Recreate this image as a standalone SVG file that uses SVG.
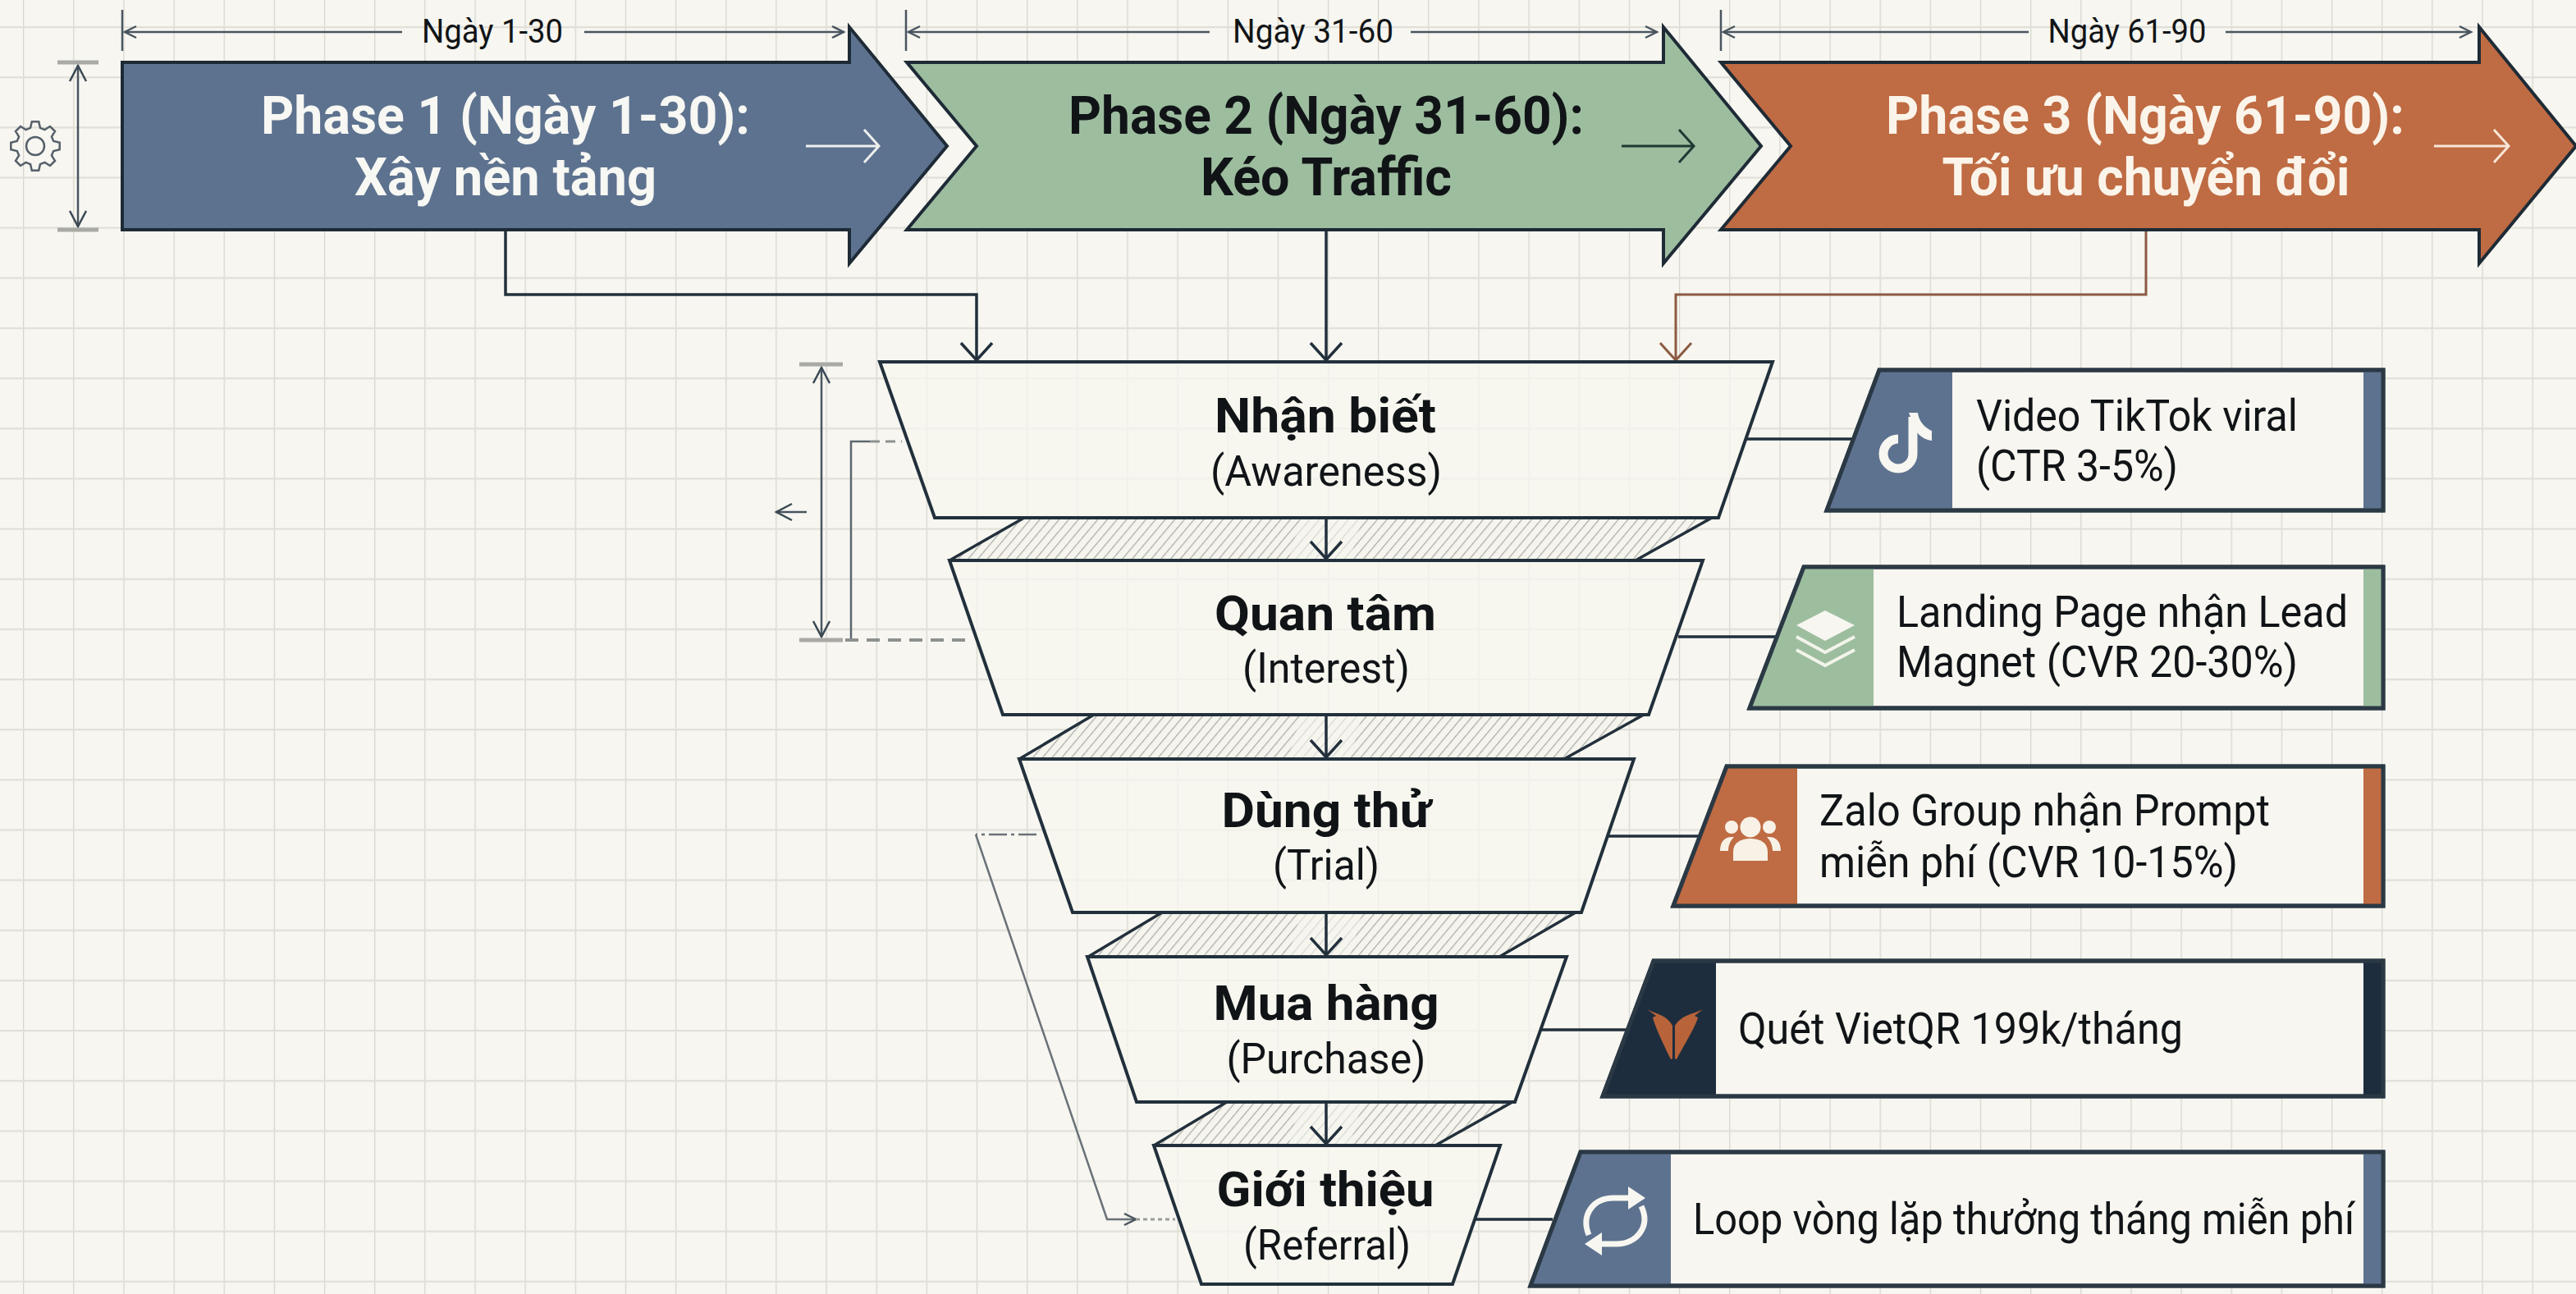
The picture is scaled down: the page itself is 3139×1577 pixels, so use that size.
<svg xmlns="http://www.w3.org/2000/svg" width="3139" height="1577" viewBox="0 0 3139 1577">
<style>
text{font-family:Roboto,"Noto Sans","Liberation Sans",sans-serif;fill:#111417}
.c{text-anchor:middle}
.ph{font-size:65px;font-weight:700}
.hd{font-size:60px;font-weight:700}
.sb{font-size:52px;font-weight:400}
.cd{font-size:54px;font-weight:400}
.dm{font-size:40px}
.ln{fill:none;stroke:#22303c;stroke-width:3.5}
.tr{fill:#f7f6f0;fill-opacity:.72;stroke:#22303c;stroke-width:4;stroke-linejoin:miter}
.hb{fill:url(#hatch);stroke:none}
.hs{fill:none;stroke:#22303c;stroke-width:3.5}
.cb{fill:#f7f6f0;stroke:#2b3945;stroke-width:5}
.ar{stroke:#1e2b36;stroke-width:4;stroke-linejoin:miter}
</style>
<defs>
<pattern id="grid" width="61.15" height="61.15" patternUnits="userSpaceOnUse" x="28" y="32">
<path d="M0,0V61.15" stroke="#d6d6cf" stroke-width="2.5" fill="none"/>
<path d="M0,0H61.15" stroke="#e0dfd8" stroke-width="4.5" fill="none"/>
</pattern>
<pattern id="hatch" width="9" height="9" patternUnits="userSpaceOnUse" patternTransform="rotate(40)">
<rect width="9" height="9" fill="#f5f4ed"/>
<path d="M0,0V9" stroke="#a9aba7" stroke-width="2.4"/>
</pattern>
<marker id="mD" markerUnits="userSpaceOnUse" markerWidth="60" markerHeight="60" refX="30" refY="30" orient="auto" overflow="visible"><path d="M9,11L30,30L9,49" fill="none" stroke="#22303c" stroke-width="3.5"/></marker>
<marker id="mB" markerUnits="userSpaceOnUse" markerWidth="60" markerHeight="60" refX="30" refY="30" orient="auto" overflow="visible"><path d="M9,11L30,30L9,49" fill="none" stroke="#8b5a42" stroke-width="3"/></marker>
<marker id="mS" markerUnits="userSpaceOnUse" markerWidth="40" markerHeight="40" refX="20" refY="20" orient="auto" overflow="visible"><path d="M6,13L20,20L6,27" fill="none" stroke="#4a5560" stroke-width="2.5"/></marker>
<marker id="mV" markerUnits="userSpaceOnUse" markerWidth="40" markerHeight="40" refX="20" refY="20" orient="auto" overflow="visible"><path d="M1,10L20,20L1,30" fill="none" stroke="#3a4854" stroke-width="2.5"/></marker>
</defs>
<rect width="3139" height="1577" fill="#f7f6f0"/>
<rect width="3139" height="1577" fill="url(#grid)"/>

<g id="dimensions">
<g fill="none" stroke="#4a5560" stroke-width="2.5">
<path d="M149,12V62M1104,12V62M2097,12V62"/>
<path d="M490,39H152" marker-end="url(#mS)"/><path d="M712,39H1028" marker-end="url(#mS)"/>
<path d="M1474,39H1107" marker-end="url(#mS)"/><path d="M1719,39H2019" marker-end="url(#mS)"/>
<path d="M2472,39H2100" marker-end="url(#mS)"/><path d="M2712,39H3011" marker-end="url(#mS)"/>
<path d="M95,178V80" marker-end="url(#mV)"/><path d="M95,178V276" marker-end="url(#mV)"/>
<path d="M1001,610V448" marker-end="url(#mV)"/><path d="M1001,610V776" marker-end="url(#mV)"/>
</g>
<path d="M70,76H120M70,280H120M974,444H1027M974,780H1027" stroke="#a9aaa6" stroke-width="5" fill="none"/>
<path d="M1060,538H1037V780" fill="none" stroke="#5d6770" stroke-width="2.5"/>
<path d="M1060,538H1099" fill="none" stroke="#8d918f" stroke-width="3" stroke-dasharray="12 7"/>
<path d="M1030,780H1186" fill="none" stroke="#8d918f" stroke-width="4" stroke-dasharray="16 10"/>
<path d="M983,624H946" fill="none" stroke="#4a5560" stroke-width="2.5" marker-end="url(#mV)"/>
<text class="dm c" x="600" y="52" textLength="172" lengthAdjust="spacingAndGlyphs">Ngày 1-30</text>
<text class="dm c" x="1600" y="52" textLength="196" lengthAdjust="spacingAndGlyphs">Ngày 31-60</text>
<text class="dm c" x="2592" y="52" textLength="193" lengthAdjust="spacingAndGlyphs">Ngày 61-90</text>
</g>

<g id="gear" transform="translate(43,178)" fill="none" stroke="#56606a" stroke-width="2.5">
<path d="M-5.95,-22.2L-4.2,-29.7L4.2,-29.7L5.95,-22.2L11.5,-19.9L18,-24L24,-18L19.9,-11.5L22.2,-5.95L29.7,-4.2L29.7,4.2L22.2,5.95L19.9,11.5L24,18L18,24L11.5,19.9L5.95,22.2L4.2,29.7L-4.2,29.7L-5.95,22.2L-11.5,19.9L-18,24L-24,18L-19.9,11.5L-22.2,5.95L-29.7,4.2L-29.7,-4.2L-22.2,-5.95L-19.9,-11.5L-24,-18L-18,-24L-11.5,-19.9Z"/>
<circle r="11"/>
</g>

<g id="connectors">
<path class="ln" d="M616,280V359H1190V439" marker-end="url(#mD)"/>
<path class="ln" d="M1616,280V439" marker-end="url(#mD)"/>
<path d="M2615,280V359H2042V439" fill="none" stroke="#8b5a42" stroke-width="3" marker-end="url(#mB)"/>
<path class="ln" d="M2127,535H2258M2045,776H2163M1959,1019H2071M1878,1255H1982M1798,1486H1892"/>
</g>

<g id="hatches">
<path class="hb" d="M1248,631H2086L1993,683H1157Z"/>
<path class="hb" d="M1333,871H2003L1906,925H1242Z"/>
<path class="hb" d="M1416,1112H1920L1827,1166H1326Z"/>
<path class="hb" d="M1495,1343H1843L1749,1396H1406Z"/>
<path class="hs" d="M1248,631L1157,683M2086,631L1993,683M1333,871L1242,925M2003,871L1906,925M1416,1112L1326,1166M1920,1112L1827,1166M1495,1343L1406,1396M1843,1343L1749,1396"/>
<path d="M1585,631H1660L1645,683H1570ZM1585,871H1660L1645,925H1570ZM1585,1112H1660L1645,1166H1570ZM1585,1343H1660L1645,1396H1570Z" fill="#f7f6f0" fill-opacity=".6"/>
</g>

<g id="phase-1">
<path class="ar" d="M149,76H1035V33L1154,178L1035,321V280H149Z" fill="#5d728f"/>
<text class="ph c" x="616" y="163" textLength="596" lengthAdjust="spacingAndGlyphs" style="fill:#f7f7f3">Phase 1 (Ngày 1-30):</text>
<text class="ph c" x="616" y="238" textLength="368" lengthAdjust="spacingAndGlyphs" style="fill:#f7f7f3">Xây nền tảng</text>
<path d="M982,178H1070M1053,158L1071,178L1053,198" fill="none" stroke="#eef0ee" stroke-width="3"/>
</g>
<g id="phase-2">
<path class="ar" d="M1105,76H2027V33L2146,178L2027,321V280H1105L1190,178Z" fill="#9dbd9f"/>
<text class="ph c" x="1616" y="163" textLength="628" lengthAdjust="spacingAndGlyphs">Phase 2 (Ngày 31-60):</text>
<text class="ph c" x="1616" y="238" textLength="306" lengthAdjust="spacingAndGlyphs">Kéo Traffic</text>
<path d="M1976,178H2063M2046,158L2064,178L2046,198" fill="none" stroke="#1e3a33" stroke-width="3"/>
</g>
<g id="phase-3">
<path class="ar" d="M2097,76H3021V33L3139,178L3021,321V280H2097L2182,178Z" fill="#bf6b43"/>
<text class="ph c" x="2614" y="163" textLength="632" lengthAdjust="spacingAndGlyphs" style="fill:#fbf4ea">Phase 3 (Ngày 61-90):</text>
<text class="ph c" x="2615" y="238" textLength="497" lengthAdjust="spacingAndGlyphs" style="fill:#fbf4ea">Tối ưu chuyển đổi</text>
<path d="M2966,178H3056M3039,158L3057,178L3039,198" fill="none" stroke="#f8e6d8" stroke-width="3"/>
</g>

<g id="funnel-arrows">
<path class="ln" d="M1616,631V681" marker-end="url(#mD)"/>
<path class="ln" d="M1616,871V923" marker-end="url(#mD)"/>
<path class="ln" d="M1616,1112V1164" marker-end="url(#mD)"/>
<path class="ln" d="M1616,1343V1394" marker-end="url(#mD)"/>
</g>

<g id="feedback-loop" fill="none">
<path d="M1263,1017H1189" stroke="#6a7278" stroke-width="2.5" stroke-dasharray="22 5 4 5"/>
<path d="M1189,1017L1349,1486H1384" stroke="#6a7278" stroke-width="2.5" marker-end="url(#mS)"/>
<path d="M1384,1486H1432" stroke="#9a9d9a" stroke-width="3" stroke-dasharray="5 4"/>
</g>

<g id="stage-awareness">
<path class="tr" d="M1072,441H2160L2094,631H1139Z"/>
<text class="hd c" x="1615" y="527" textLength="270" lengthAdjust="spacingAndGlyphs">Nhận biết</text>
<text class="sb c" x="1616" y="592" textLength="282" lengthAdjust="spacingAndGlyphs">(Awareness)</text>
</g>
<g id="stage-interest">
<path class="tr" d="M1157,683H2075L2009,871H1222Z"/>
<text class="hd c" x="1615" y="768" textLength="270" lengthAdjust="spacingAndGlyphs">Quan tâm</text>
<text class="sb c" x="1616" y="832" textLength="204" lengthAdjust="spacingAndGlyphs">(Interest)</text>
</g>
<g id="stage-trial">
<path class="tr" d="M1242,925H1991L1927,1112H1307Z"/>
<text class="hd c" x="1616" y="1008" textLength="255" lengthAdjust="spacingAndGlyphs">Dùng thử</text>
<text class="sb c" x="1616" y="1072" textLength="130" lengthAdjust="spacingAndGlyphs">(Trial)</text>
</g>
<g id="stage-purchase">
<path class="tr" d="M1325,1166H1909L1846,1343H1385Z"/>
<text class="hd c" x="1616" y="1243" textLength="275" lengthAdjust="spacingAndGlyphs">Mua hàng</text>
<text class="sb c" x="1616" y="1308" textLength="243" lengthAdjust="spacingAndGlyphs">(Purchase)</text>
</g>
<g id="stage-referral">
<path class="tr" d="M1406,1396H1828L1770,1565H1464Z"/>
<text class="hd c" x="1615" y="1470" textLength="265" lengthAdjust="spacingAndGlyphs">Giới thiệu</text>
<text class="sb c" x="1617" y="1535" textLength="204" lengthAdjust="spacingAndGlyphs">(Referral)</text>
</g>

<g id="card-tiktok">
<path class="cb" d="M2290,451H2904V622H2226Z"/>
<path d="M2290,451H2379V622H2226Z" fill="#5d728f"/><rect x="2880" y="451" width="24" height="171" fill="#5d728f"/>
<path class="cb" style="fill:none" d="M2290,451H2904V622H2226Z"/>
<path d="M2331,508V553a18,18 0 1 1 -18,-18" fill="none" stroke="#f7f6f0" stroke-width="11"/>
<path d="M2326,503H2337C2338,513 2345,521 2354,525V537C2346,536 2340,532 2336,527Z" fill="#f7f6f0"/>
<text class="cd" x="2408" y="525" textLength="392" lengthAdjust="spacingAndGlyphs">Video TikTok viral</text>
<text class="cd" x="2408" y="586" textLength="246" lengthAdjust="spacingAndGlyphs">(CTR 3-5%)</text>
</g>
<g id="card-landing">
<path class="cb" d="M2198,691H2904V863H2132Z"/>
<path d="M2198,691H2283V863H2132Z" fill="#9dbd9f"/><rect x="2880" y="691" width="24" height="172" fill="#9dbd9f"/>
<path class="cb" style="fill:none" d="M2198,691H2904V863H2132Z"/>
<path d="M2224,744L2260,762L2224,781L2189,762Z" fill="#f7f6f0"/>
<path d="M2189,776L2224,795L2260,776M2189,792L2224,811L2260,792" fill="none" stroke="#f2f4ea" stroke-width="4"/>
<text class="cd" x="2311" y="764" textLength="550" lengthAdjust="spacingAndGlyphs">Landing Page nhận Lead</text>
<text class="cd" x="2311" y="825" textLength="489" lengthAdjust="spacingAndGlyphs">Magnet (CVR 20-30%)</text>
</g>
<g id="card-zalo">
<path class="cb" d="M2104,934H2904V1104H2039Z"/>
<path d="M2104,934H2190V1104H2039Z" fill="#bf6b43"/><rect x="2880" y="934" width="24" height="170" fill="#bf6b43"/>
<path class="cb" style="fill:none" d="M2104,934H2904V1104H2039Z"/>
<g fill="#f8f1e6">
<circle cx="2133" cy="1008" r="12.5"/><circle cx="2110" cy="1008" r="8"/><circle cx="2156" cy="1008" r="8"/>
<path d="M2112,1049V1038C2112,1027 2121,1022 2133,1022C2145,1022 2154,1027 2154,1038V1049Z"/>
<path d="M2096,1037C2096,1025 2102,1019 2113,1020C2108,1025 2106,1031 2106,1037ZM2170,1037C2170,1025 2164,1019 2153,1020C2158,1025 2160,1031 2160,1037Z"/>
</g>
<text class="cd" x="2217" y="1006" textLength="549" lengthAdjust="spacingAndGlyphs">Zalo Group nhận Prompt</text>
<text class="cd" x="2217" y="1069" textLength="510" lengthAdjust="spacingAndGlyphs">miễn phí (CVR 10-15%)</text>
</g>
<g id="card-vietqr">
<path class="cb" d="M2015,1171H2904V1336H1953Z"/>
<path d="M2015,1171H2091V1336H1953Z" fill="#1e2d3d"/><rect x="2880" y="1171" width="24" height="165" fill="#1e2d3d"/>
<path class="cb" style="fill:none" d="M2015,1171H2904V1336H1953Z"/>
<path d="M2007,1230C2018,1236 2030,1236 2038,1250V1290L2036,1291C2028,1275 2017,1252 2014,1240L2018,1238Z" fill="#b8633a"/>
<path d="M2075,1230C2064,1236 2050,1236 2041,1250V1290L2043,1291C2051,1275 2066,1252 2069,1240L2065,1238Z" fill="#b8633a"/>
<text class="cd" x="2118" y="1272" textLength="542" lengthAdjust="spacingAndGlyphs">Quét VietQR 199k/tháng</text>
</g>
<g id="card-loop">
<path class="cb" d="M1926,1404H2904V1567H1865Z"/>
<path d="M1926,1404H2036V1567H1865Z" fill="#5d728f"/><rect x="2880" y="1404" width="24" height="163" fill="#5d728f"/>
<path class="cb" style="fill:none" d="M1926,1404H2904V1567H1865Z"/>
<g fill="none" stroke="#f7f6f0" stroke-width="7">
<path d="M1936,1505C1926,1480 1942,1460 1966,1460H1985"/>
<path d="M2000,1470C2012,1495 1994,1516 1970,1516H1950"/>
</g>
<path d="M1984,1446L2005,1460L1984,1474Z M1952,1502L1931,1516L1952,1530Z" fill="#f7f6f0"/>
<text class="cd" x="2063" y="1504" textLength="806" lengthAdjust="spacingAndGlyphs">Loop vòng lặp thưởng tháng miễn phí</text>
</g>
</svg>
